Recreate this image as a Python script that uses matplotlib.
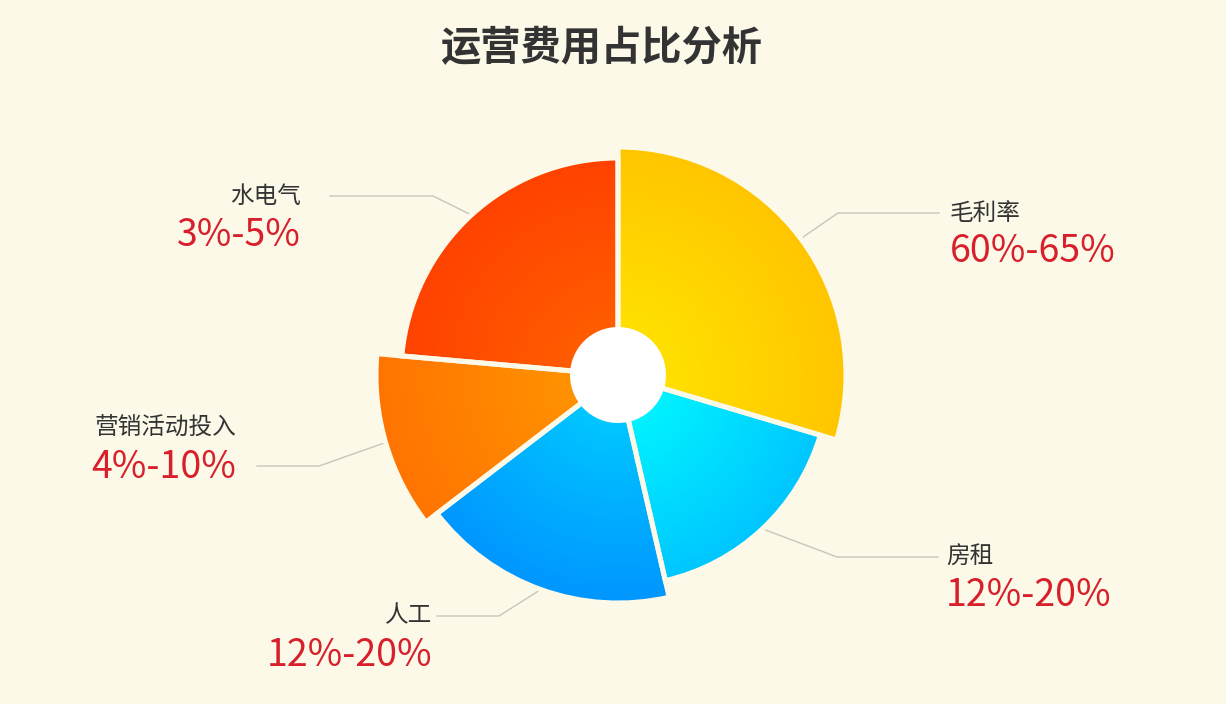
import numpy as np
import matplotlib
matplotlib.use('Agg')
import matplotlib.pyplot as plt
from matplotlib.patches import Wedge, Circle
from matplotlib.colors import LinearSegmentedColormap

plt.rcParams['font.family'] = ['Noto Sans CJK SC', 'DejaVu Sans']

# data
names = ['毛利率', '房租', '人工', '营销活动投入', '水电气']
ranges = ['60%-65%', '12%-20%', '12%-20%', '4%-10%', '3%-5%']
share = [29.6, 16.8, 18.2, 11.8, 23.6]          # percent of the circle
radius = [228, 211, 228, 242, 217]              # rose radius (px)
inner_colors = ['#FFE000', '#00F2FF', '#00C6FF', '#FF9200', '#FF5C00']
outer_colors = ['#FFC600', '#00C6FF', '#0096FF', '#FF7400', '#FF4200']

# label layout: elbow point, line end, text x, name y, value y (pixels)
label_layout = [
    ((838, 213), 939, 950, 213, 252),
    ((837, 557), 938, 946, 557, 596),
    ((499, 616), 437, 432, 616, 655),
    ((319, 466), 257, 236, 428, 467),
    ((433, 196), 330, 301, 196, 236),
]

bg = '#FCF9E8'
W, H = 1226, 704
cx, cy = 618, 375
hole = 48

fig = plt.figure(figsize=(W / 100, H / 100), dpi=100, facecolor=bg)
ax = fig.add_axes([0, 0, 1, 1])
ax.set_facecolor(bg)

start = -90.0  # y axis inverted: -90 is top, angles grow clockwise on screen
for i, name in enumerate(names):
    span = share[i] / 100 * 360
    r = radius[i]
    w = Wedge((cx, cy), r, start, start + span, facecolor='none',
              edgecolor=bg, linewidth=3.6, zorder=3)
    ax.add_patch(w)

    # radial gradient clipped to the slice
    n = 400
    xs = np.linspace(-r, r, n)
    xx, yy = np.meshgrid(xs, xs)
    d = np.clip((np.hypot(xx, yy) - hole) / (r - hole), 0, 1)
    cmap = LinearSegmentedColormap.from_list('g%d' % i, [inner_colors[i], outer_colors[i]])
    im = ax.imshow(d, cmap=cmap, vmin=0, vmax=1, extent=[cx - r, cx + r, cy + r, cy - r],
                   aspect='auto', zorder=2, interpolation='bilinear')
    im.set_clip_path(w)

    # leader line and labels
    mid = np.radians(start + span / 2)
    p0 = (cx + r * np.cos(mid), cy + r * np.sin(mid))
    (ex, ey), lx, tx, ny, vy = label_layout[i]
    ax.plot([p0[0], ex, lx], [p0[1], ey, ey], color='#C9C5B9', lw=1.0, zorder=1)
    ha = 'left' if lx > ex else 'right'
    ax.text(tx, ny, name, fontsize=17, color='#333333', ha=ha, va='center')
    ax.text(tx, vy, ranges[i], fontsize=27, color='#D7202B', ha=ha, va='center')

    start += span

ax.add_patch(Circle((cx, cy), hole, facecolor='white', edgecolor='none', zorder=4))

ax.text(601, 49, '运营费用占比分析', fontsize=29, fontweight='bold', color='#333333',
        ha='center', va='center')

ax.set_xlim(0, W)
ax.set_ylim(H, 0)
ax.axis('off')

fig.savefig('out.png', dpi=100, facecolor=bg)
